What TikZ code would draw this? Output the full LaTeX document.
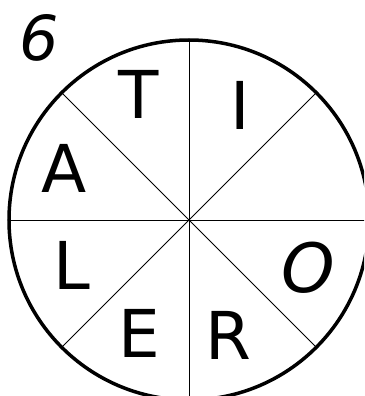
\documentclass[tikz,border=0pt]{standalone}
\usepackage{fontspec}
\setmainfont{DejaVu Sans}

\begin{document}
\begin{tikzpicture}[x=1pt, y=1pt, yscale=-1,
  letter/.style={inner sep=0pt, font=\fontsize{66}{66}\selectfont}]
\useasboundingbox (0,0) rectangle (364,396);
\clip (0,0) rectangle (364,396);
\coordinate (c) at (189,220);
\draw[line width=3.5pt] (c) circle (180);
\foreach \a in {0,45,...,315}
  \draw[line width=0.8pt] (c) -- ++(\a:180);
\node[letter] (t) at (139,94) {T};
\node[letter] (i) at (240,105) {I};
\node[letter] (a) at (64,168) {A};
\node[letter] (l) at (72,265) {L};
\node[letter, font=\fontsize{68}{68}\selectfont\itshape] (o) at (308,268) {O};
\node[letter] (e) at (139,333) {E};
\node[letter] (r) at (228,335) {R};
\node[letter, font=\fontsize{62}{62}\selectfont\itshape] (num) at (39,38) {6};
\end{tikzpicture}
\end{document}
